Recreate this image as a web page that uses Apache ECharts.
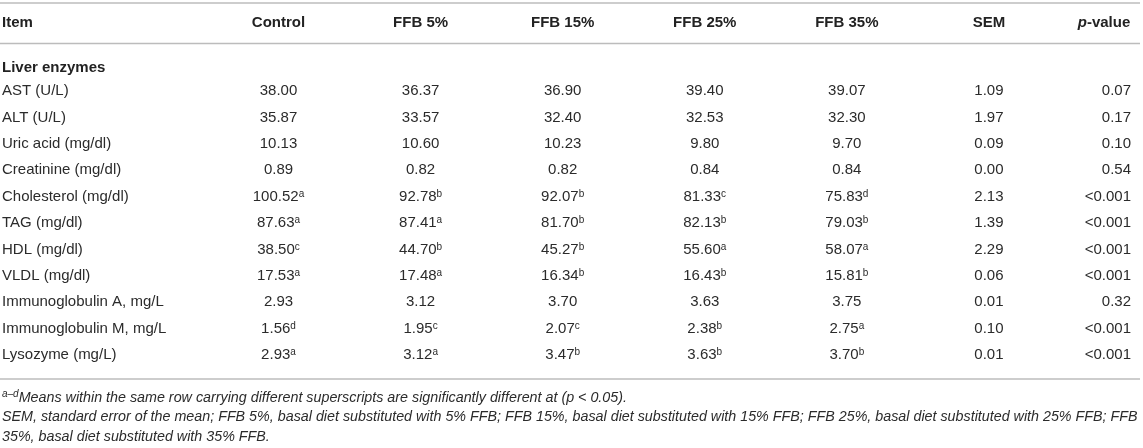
<!DOCTYPE html>
<html lang="en">
<head>
<meta charset="UTF-8">
<title>Liver enzymes table</title>
<script src="https://cdn.jsdelivr.net/npm/echarts@6/dist/echarts.min.js"></script>
<style>html, body { margin: 0; padding: 0; background: #fff; }</style>
</head>
<body>
<div id="main" style="width:1143px;height:448px;"></div>
<script>
// table content
var columnHeads = ['Item', 'Control', 'FFB 5%', 'FFB 15%', 'FFB 25%', 'FFB 35%', 'SEM', 'p-value'];
var sectionLabel = 'Liver enzymes';
var rowLabels = ['AST (U/L)', 'ALT (U/L)', 'Uric acid (mg/dl)', 'Creatinine (mg/dl)', 'Cholesterol (mg/dl)',
    'TAG (mg/dl)', 'HDL (mg/dl)', 'VLDL (mg/dl)', 'Immunoglobulin A, mg/L', 'Immunoglobulin M, mg/L', 'Lysozyme (mg/L)'];
var control  = [38.00, 35.87, 10.13, 0.89, 100.52, 87.63, 38.50, 17.53, 2.93, 1.56, 2.93];
var controlSup = ['', '', '', '', 'a', 'a', 'c', 'a', '', 'd', 'a'];
var ffb5     = [36.37, 33.57, 10.60, 0.82, 92.78, 87.41, 44.70, 17.48, 3.12, 1.95, 3.12];
var ffb5Sup  = ['', '', '', '', 'b', 'a', 'b', 'a', '', 'c', 'a'];
var ffb15    = [36.90, 32.40, 10.23, 0.82, 92.07, 81.70, 45.27, 16.34, 3.70, 2.07, 3.47];
var ffb15Sup = ['', '', '', '', 'b', 'b', 'b', 'b', '', 'c', 'b'];
var ffb25    = [39.40, 32.53, 9.80, 0.84, 81.33, 82.13, 55.60, 16.43, 3.63, 2.38, 3.63];
var ffb25Sup = ['', '', '', '', 'c', 'b', 'a', 'b', '', 'b', 'b'];
var ffb35    = [39.07, 32.30, 9.70, 0.84, 75.83, 79.03, 58.07, 15.81, 3.75, 2.75, 3.70];
var ffb35Sup = ['', '', '', '', 'd', 'b', 'a', 'b', '', 'a', 'b'];
var sem      = [1.09, 1.97, 0.09, 0.00, 2.13, 1.39, 2.29, 0.06, 0.01, 0.10, 0.01];
var pValue   = ['0.07', '0.17', '0.10', '0.54', '<0.001', '<0.001', '<0.001', '<0.001', '0.32', '<0.001', '<0.001'];
var footSup = 'a\u2013d';
var footnote1 = 'Means within the same row carrying different superscripts are significantly different at (p < 0.05).';
var footnote2 = 'SEM, standard error of the mean; FFB 5%, basal diet substituted with 5% FFB; FFB 15%, basal diet substituted with 15% FFB; FFB 25%, basal diet substituted with 25% FFB; FFB';
var footnote3 = '35%, basal diet substituted with 35% FFB.';

var FONT = '"Liberation Sans", Arial, Helvetica, sans-serif';
var TXT = '#2b2b2b';
var RULE = '#bcbcbc';

// one cell per (column, row)
var columns = [
    [control, controlSup], [ffb5, ffb5Sup], [ffb15, ffb15Sup], [ffb25, ffb25Sup],
    [ffb35, ffb35Sup], [sem, null], [pValue, null]
];
var cells = [];
columns.forEach(function (col, ci) {
    col[0].forEach(function (v, ri) {
        cells.push({
            col: ci, row: ri,
            text: typeof v === 'number' ? v.toFixed(2) : v,
            sup: col[1] ? col[1][ri] : ''
        });
    });
});

var myChart = echarts.init(document.getElementById('main'));

function renderCell(params, api) {
    var c = cells[params.dataIndex];
    var pt = api.coord([api.value(0), api.value(1)]);
    var txt = '{n|' + c.text + '}' + (c.sup ? '{s|' + c.sup + '}' : '');
    return {
        type: 'text',
        x: pt[0],
        y: pt[1],
        style: {
            text: txt,
            align: c.col === 6 ? 'right' : 'center',
            verticalAlign: 'middle',
            fill: TXT,
            fontFamily: FONT,
            fontSize: 15,
            rich: {
                n: { fontFamily: FONT, fontSize: 15, fill: TXT },
                s: { fontFamily: FONT, fontSize: 10, fill: TXT, verticalAlign: 'top' }
            }
        }
    };
}

var option = {
    backgroundColor: '#fff',
    animation: false,
    title: [
        { text: columnHeads[0], left: 2, top: 14, padding: 0,
          textStyle: { fontFamily: FONT, fontSize: 15, fontWeight: 'bold', color: '#222', lineHeight: 18 } },
        { text: sectionLabel, left: 2, top: 59, padding: 0,
          textStyle: { fontFamily: FONT, fontSize: 15, fontWeight: 'bold', color: '#222', lineHeight: 18 } },
        { text: '{s|' + footSup + '}' + footnote1, left: 2, top: 389, padding: 0,
          textStyle: { fontFamily: FONT, fontSize: 14.3, fontStyle: 'italic', fontWeight: 'normal', color: TXT, lineHeight: 18,
            rich: { s: { fontFamily: FONT, fontSize: 10, fontStyle: 'italic', color: TXT, verticalAlign: 'top' } } } },
        { text: footnote2 + '\n' + footnote3, left: 2, top: 407, padding: 0,
          textStyle: { fontFamily: FONT, fontSize: 14.3, fontStyle: 'italic', fontWeight: 'normal', color: TXT, lineHeight: 20 } }
    ],
    grid: { left: 278.5, right: 12, top: 78, bottom: 80, containLabel: false, outerBoundsMode: 'none' },
    xAxis: {
        type: 'category',
        position: 'top',
        boundaryGap: false,
        data: columnHeads.slice(1),
        axisLine: { show: false },
        axisTick: { show: false },
        splitLine: { show: false },
        axisLabel: {
            interval: 0,
            margin: 55,
            verticalAlign: 'middle',
            fontFamily: FONT,
            fontSize: 15,
            fontWeight: 'bold',
            color: '#222',
            formatter: function (v) {
                if (v === 'p-value') return '{it|p}{pr|-value}';
                return v;
            },
            rich: {
                it: { fontFamily: FONT, fontSize: 15, fontWeight: 'bold', fontStyle: 'italic', color: '#222' },
                pr: { fontFamily: FONT, fontSize: 15, fontWeight: 'bold', color: '#222', padding: [0, 54, 0, 0] }
            }
        }
    },
    yAxis: {
        type: 'category',
        inverse: true,
        data: rowLabels,
        axisLine: { show: false },
        axisTick: { show: false },
        splitLine: { show: false },
        axisLabel: {
            interval: 0,
            align: 'left',
            margin: 276.5,
            fontFamily: FONT,
            fontSize: 15,
            color: TXT
        }
    },
    series: [{
        type: 'custom',
        renderItem: renderCell,
        encode: { x: 0, y: 1 },
        data: cells.map(function (c) { return [c.col, c.row]; })
    }],
    // table rules
    graphic: [
        { type: 'line', shape: { x1: 0, y1: 3, x2: 1140, y2: 3 }, style: { stroke: RULE, lineWidth: 1.6 } },
        { type: 'line', shape: { x1: 0, y1: 43.5, x2: 1140, y2: 43.5 }, style: { stroke: RULE, lineWidth: 1.6 } },
        { type: 'line', shape: { x1: 0, y1: 379, x2: 1140, y2: 379 }, style: { stroke: RULE, lineWidth: 1.6 } }
    ]
};

myChart.setOption(option);
</script>
</body>
</html>
